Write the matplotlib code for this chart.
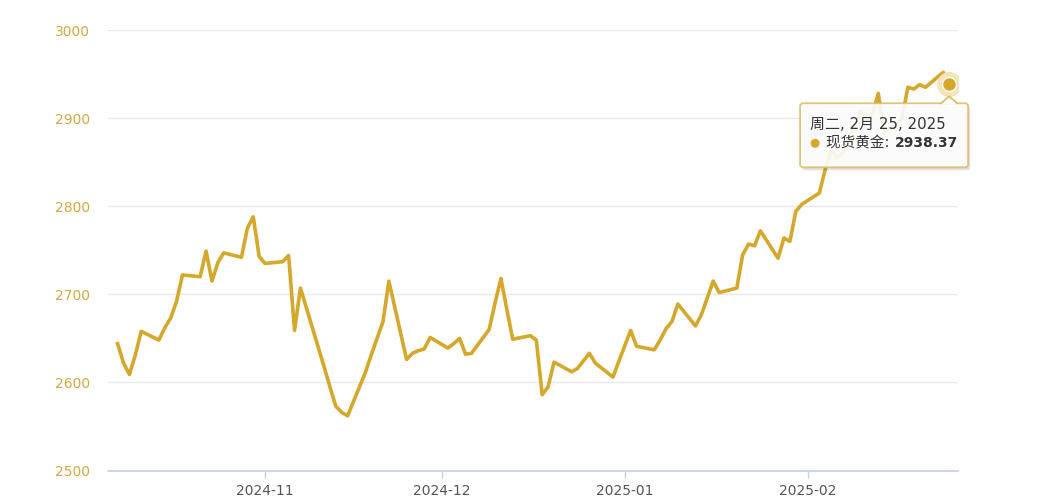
import matplotlib
matplotlib.use('Agg')
import matplotlib.pyplot as plt
import matplotlib.dates as mdates
import pandas as pd
from matplotlib.patches import FancyBboxPatch, Polygon, Circle
from matplotlib.transforms import IdentityTransform
from matplotlib.lines import Line2D

plt.rcParams['font.family'] = ['DejaVu Sans', 'Noto Sans CJK SC']

# ---------------- data ----------------
holidays = ['2024-12-25', '2025-01-01']
dates = pd.bdate_range('2024-10-07', '2025-02-25').drop(pd.to_datetime(holidays))

prices_oct = [2644, 2622, 2609, 2631, 2658, 2648, 2662, 2673, 2692, 2722,
              2720, 2749, 2715, 2736, 2747, 2742, 2775, 2788, 2743]
prices_nov = [2735, 2737, 2744, 2659, 2707, 2685, 2618, 2595, 2573, 2566,
              2562, 2611, 2631, 2650, 2669, 2715, 2626, 2633, 2636, 2638, 2651]
prices_dec = [2639, 2644, 2650, 2632, 2633, 2660, 2690, 2718, 2683, 2649,
              2653, 2648, 2586, 2595, 2623, 2612, 2616, 2633, 2622, 2606, 2624]
prices_jan = [2659, 2641, 2637, 2648, 2661, 2669, 2689, 2664, 2677, 2696,
              2715, 2702, 2707, 2745, 2757, 2755, 2772, 2741, 2764, 2760, 2794, 2802]
prices_feb = [2815, 2842, 2863, 2855, 2861, 2908, 2898, 2905, 2928, 2883,
              2899, 2935, 2933, 2938, 2935, 2952, 2938.37]
prices = prices_oct + prices_nov + prices_dec + prices_jan + prices_feb

series_name = '现货黄金'
tooltip_date = '周二, 2月 25, 2025'
month_ticks = ['2024-11-01', '2024-12-01', '2025-01-01', '2025-02-01']
month_labels = ['2024-11', '2024-12', '2025-01', '2025-02']
y_ticks = [2500, 2600, 2700, 2800, 2900, 3000]

# ---------------- style ----------------
GOLD = '#d5a72b'
W, H = 1037, 504
fig = plt.figure(figsize=(W / 100, H / 100), dpi=100)
fig.patch.set_facecolor('white')
ax = fig.add_axes([108 / W, (H - 470.5) / H, (958 - 108) / W, (470.5 - 30) / H])

x = mdates.date2num(dates)
ax.plot(x, prices, color=GOLD, lw=2.6, solid_joinstyle='round', zorder=3)

ax.set_ylim(y_ticks[0], y_ticks[-1])
ax.set_xlim(x[0] - 1.63, x[-1] + 1.51)
ax.set_yticks(y_ticks)
ax.set_yticklabels([str(v) for v in y_ticks])
ax.set_xticks(mdates.date2num(pd.to_datetime(month_ticks)))
ax.set_xticklabels(month_labels)

for s in ['top', 'right', 'left']:
    ax.spines[s].set_visible(False)
ax.spines['bottom'].set_color('#c6d1dd')
ax.spines['bottom'].set_linewidth(1.2)
ax.grid(axis='y', color='#e9e9e9', lw=1)
ax.set_axisbelow(True)
ax.tick_params(axis='y', length=0, pad=13, labelsize=10, labelcolor='#d2a944')
ax.tick_params(axis='x', length=5, width=1, color='#c6d1dd', pad=5,
               labelsize=10, labelcolor='#555555')

# highlighted last point
ax.plot(x[-1], prices[-1], 'o', ms=17, color='#f3e5b8', zorder=4)
ax.plot(x[-1], prices[-1], 'o', ms=10, color=GOLD, mec='white', mew=1, zorder=5)

# ---------------- tooltip ----------------
px, py = ax.transData.transform((x[-1], prices[-1]))
ident = IdentityTransform()
left, right, top, bottom = px - 149, px + 19, py - 19, py - 83

shadow = FancyBboxPatch((left + 2, bottom - 3), right - left, top - bottom,
                        boxstyle='round,pad=0,rounding_size=3', transform=ident,
                        facecolor='#000000', alpha=0.12, edgecolor='none', zorder=10)
box = FancyBboxPatch((left, bottom), right - left, top - bottom,
                     boxstyle='round,pad=0,rounding_size=3', transform=ident,
                     facecolor='white', alpha=0.9, edgecolor='#dcbd6a', lw=1.3, zorder=11)
fig.add_artist(shadow)
fig.add_artist(box)
tri = Polygon([(px - 8, top - 1), (px + 8, top - 1), (px, top + 7)], closed=True,
              transform=ident, facecolor='white', edgecolor='none', zorder=12)
fig.add_artist(tri)
fig.add_artist(Line2D([px - 8, px, px + 8], [top, top + 7, top], transform=ident,
                      color='#dcbd6a', lw=1.3, zorder=12))

fig.text(left + 10, py - 40, tooltip_date, transform=ident, fontsize=10.8,
         color='#333333', va='center', ha='left', zorder=13)
fig.add_artist(Circle((left + 15, py - 59), 4.5, transform=ident,
                      facecolor=GOLD, edgecolor='none', zorder=13))
lbl = fig.text(left + 26, py - 59, series_name + ': ', transform=ident, fontsize=10.5,
               color='#333333', va='center', ha='left', zorder=13)
renderer = fig.canvas.get_renderer()
bb = lbl.get_window_extent(renderer)
fig.text(bb.x1 + 1, py - 59, f'{prices[-1]:.2f}', transform=ident, fontsize=10,
         fontweight='bold', color='#333333', va='center', ha='left', zorder=13)

fig.savefig('out.png', dpi=100)
